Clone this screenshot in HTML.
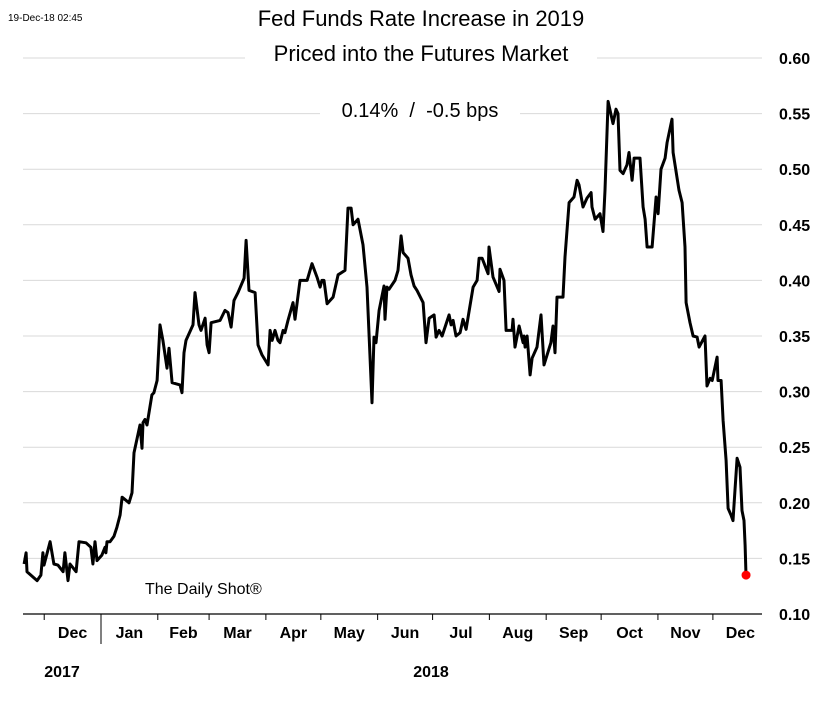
<!DOCTYPE html>
<html><head><meta charset="utf-8"><style>
html,body{margin:0;padding:0;background:#fff;}
svg{display:block;font-family:"Liberation Sans",sans-serif;}
</style></head><body>
<svg id="chart" width="840" height="708" viewBox="0 0 840 708">
<g id="grid"></g>
<g id="yticks"></g>
<g id="xaxis"></g>
<g id="series"></g>
<text x="8" y="21" font-size="10" fill="#000">19-Dec-18 02:45</text>
<rect x="245" y="0" width="352" height="70" fill="#fff"/>
<text x="421" y="26" font-size="22" text-anchor="middle">Fed Funds Rate Increase in 2019</text>
<text x="421" y="61" font-size="22" text-anchor="middle">Priced into the Futures Market</text>
<rect x="320" y="100" width="200" height="24" fill="#fff"/>
<text x="420" y="117" font-size="20" text-anchor="middle" xml:space="preserve">0.14%  /  -0.5 bps</text>
<text x="145" y="594" font-size="16">The Daily Shot®</text>
</svg>
<script>
const days=[-42,-40.9,-40.4,-34.9,-32.8,-31.7,-31.1,-27.8,-25.7,-23.5,-20.7,-19.7,-18,-16.9,-13.6,-12,-8.2,-5.5,-4.4,-3.3,-2.2,0.5,2.2,2.7,3.3,4.9,7.1,8.7,10.4,11.5,15.3,16.9,18,21.3,22.4,22.9,24,25.1,27.8,28.9,30.6,32.2,33.8,36,37.1,38.8,43.1,44.2,45.3,46.4,50.2,51.3,53.5,54.6,56.8,57.9,59,60.1,65,67.7,69.3,71,72.6,74.8,78.1,79.2,80.8,84.1,85.7,87.9,91.2,92.3,93.4,95,96.6,97.7,99.4,100.4,102.1,104.8,105.9,108.6,112.5,115.2,117.9,119.6,120.6,121.7,123.4,126.7,129.4,133.2,134.8,136.5,137.6,140.3,143,145.2,147.9,149,150.1,151.8,154.5,155,156.1,157.2,160.5,162.1,163.8,164.9,167.6,169.2,170.9,172.5,175.8,177.4,179.1,181.8,182.9,184.5,186.2,190,191.1,192.2,193.8,196,197.6,199.3,203.1,205.3,206.4,208,211.3,211.8,214,217.3,217.8,220,221.1,224.4,224.9,226,228.2,230.4,230.9,231.5,232.6,234.2,235.3,238,240.2,241.8,245.6,246.7,247.8,248.9,252.2,253.3,255.5,258.2,259.9,260.9,263.1,265.3,267.5,268,269.7,272.4,274,275.1,276.8,279.5,281.1,282.2,283.3,285,287.1,288.2,289.9,291,294.2,295.9,297,298.1,300.8,303,304.1,305.7,307.9,309,311.7,312.3,315.5,317.2,318.8,319.4,321.5,323.2,325.4,326.5,329.7,330.8,332.5,333.6,336.3,336.8,338.5,339.6,341.2,342.3,343.9,345,346.1,347.2,348.8,349.9,351,351.6,352.1];
const values=[0.145,0.155,0.138,0.130,0.135,0.155,0.144,0.165,0.145,0.144,0.138,0.155,0.130,0.145,0.138,0.165,0.164,0.160,0.145,0.165,0.148,0.153,0.160,0.155,0.165,0.165,0.170,0.178,0.189,0.205,0.200,0.209,0.245,0.270,0.249,0.272,0.275,0.270,0.297,0.299,0.310,0.360,0.346,0.321,0.339,0.308,0.306,0.299,0.335,0.346,0.360,0.389,0.360,0.355,0.366,0.342,0.335,0.362,0.364,0.373,0.371,0.358,0.382,0.389,0.402,0.436,0.391,0.389,0.342,0.333,0.324,0.355,0.346,0.355,0.346,0.344,0.355,0.353,0.364,0.380,0.365,0.400,0.400,0.415,0.403,0.394,0.400,0.400,0.379,0.385,0.405,0.409,0.465,0.465,0.450,0.455,0.432,0.394,0.290,0.349,0.344,0.373,0.395,0.365,0.394,0.392,0.400,0.409,0.440,0.425,0.420,0.405,0.395,0.391,0.380,0.344,0.366,0.369,0.349,0.355,0.350,0.369,0.360,0.364,0.350,0.353,0.365,0.356,0.394,0.400,0.420,0.420,0.406,0.430,0.403,0.390,0.410,0.400,0.355,0.355,0.365,0.340,0.359,0.344,0.350,0.340,0.350,0.315,0.330,0.340,0.369,0.324,0.344,0.359,0.335,0.385,0.385,0.421,0.470,0.475,0.490,0.486,0.466,0.474,0.479,0.466,0.455,0.460,0.444,0.481,0.561,0.541,0.554,0.550,0.499,0.496,0.504,0.515,0.490,0.510,0.510,0.466,0.455,0.430,0.430,0.475,0.460,0.500,0.510,0.524,0.545,0.515,0.481,0.470,0.430,0.380,0.362,0.350,0.349,0.340,0.350,0.305,0.312,0.310,0.331,0.310,0.310,0.274,0.238,0.195,0.189,0.184,0.213,0.240,0.232,0.193,0.184,0.162,0.135];
const yTicks=["0.10","0.15","0.20","0.25","0.30","0.35","0.40","0.45","0.50","0.55","0.60"];
const months=["Dec","Jan","Feb","Mar","Apr","May","Jun","Jul","Aug","Sep","Oct","Nov","Dec"];
const monthStart=[-31,0,31,59,90,120,151,181,212,243,273,304,334];
const years=["2017","2018"];

const NS="http://www.w3.org/2000/svg";
const X0=23,X1=762,YB=614,YT=58;
function xs(d){return 101+d*1.832;}
function ys(v){return YB-(v-0.10)/0.50*(YB-YT);}
function mk(tag,attrs,parent){const e=document.createElementNS(NS,tag);for(const k in attrs)e.setAttribute(k,attrs[k]);parent.appendChild(e);return e;}
const grid=document.getElementById('grid'),yt=document.getElementById('yticks'),xa=document.getElementById('xaxis'),se=document.getElementById('series');
yTicks.forEach(t=>{const v=parseFloat(t),y=ys(v);
 if(v>0.1){const l=mk('line',{x1:X0,x2:X1,y1:y,y2:y,stroke:'#d9d9d9','stroke-width':1},grid);
 
 }
 const tx=mk('text',{x:779,y:y+6,'font-size':16,'font-weight':'bold'},yt);tx.textContent=t;
 
 
});
const ax=mk('line',{x1:X0,x2:X1,y1:YB,y2:YB,stroke:'#000','stroke-width':1.3},xa);


months.forEach((m,i)=>{const x=xs(monthStart[i]);
 const tk=mk('line',{x1:x,x2:x,y1:YB,y2:i==1?644:YB+6,stroke:'#000','stroke-width':1},xa);
 
 
 const next=i<months.length-1?xs(monthStart[i+1]):xs(monthStart[i]+30);
 const t=mk('text',{x:(x+next)/2,y:638,'font-size':16,'font-weight':'bold','text-anchor':'middle'},xa);t.textContent=m;
 
 
});
[[62,years[0]],[431,years[1]]].forEach(([x,y])=>{const t=mk('text',{x:x,y:677,'font-size':16,'font-weight':'bold','text-anchor':'middle'},xa);t.textContent=y;
 
 });
const pts=days.map((d,i)=>xs(d).toFixed(1)+','+ys(values[i]).toFixed(1)).join(' ');
const pl=mk('polyline',{points:pts,fill:'none',stroke:'#000','stroke-width':3,'stroke-linejoin':'round'},se);


const n=days.length-1;
const dot=mk('circle',{cx:xs(days[n]),cy:ys(values[n]),r:4.5,fill:'#ff0000'},se);


</script>
</body></html>
